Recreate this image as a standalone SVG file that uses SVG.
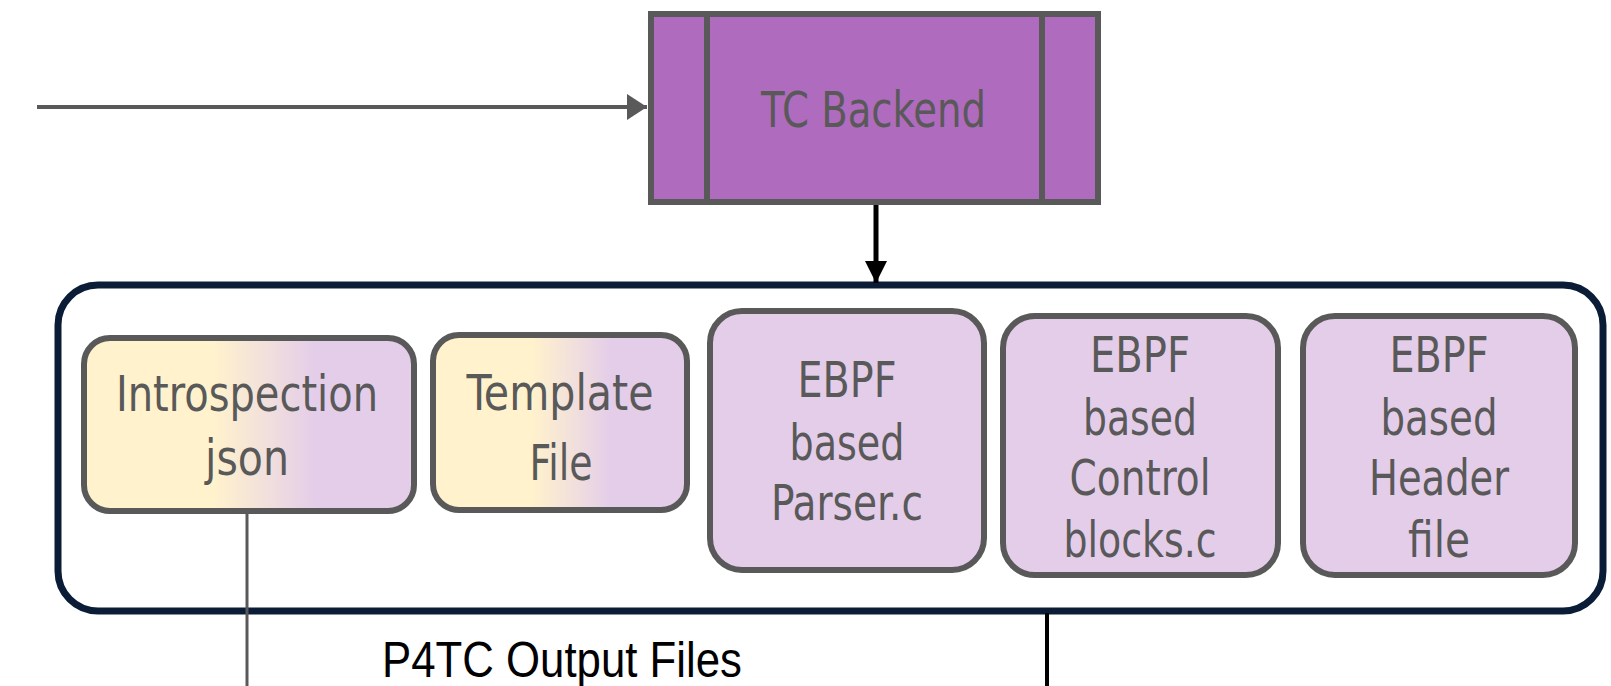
<svg xmlns="http://www.w3.org/2000/svg" width="1611" height="686" viewBox="0 0 1611 686">
  <style>
    .node { stroke: #595959; stroke-width: 6; }
    .file { fill: #E4CDE9; }
    .label { font-family: "DejaVu Sans Condensed", "DejaVu Sans", sans-serif; font-stretch: condensed; fill: #595959; text-anchor: middle; font-size: 50px; }
    .caption { font-family: "Liberation Sans Narrow", "Liberation Sans", Arial, sans-serif; fill: #000; font-size: 50px; }
  </style>
  <defs>
    <linearGradient id="mixFill" x1="0" y1="0" x2="1" y2="0">
      <stop offset="0" stop-color="#FFF2CC"/>
      <stop offset="0.39" stop-color="#FFF2CC"/>
      <stop offset="0.55" stop-color="#F2E0DC"/>
      <stop offset="0.70" stop-color="#E4CDE9"/>
      <stop offset="1" stop-color="#E4CDE9"/>
    </linearGradient>
    <marker id="headGray" markerUnits="userSpaceOnUse" markerWidth="20" markerHeight="26" refX="20" refY="13" orient="auto">
      <path d="M0,0 L20,13 L0,26 Z" fill="#595959"/>
    </marker>
    <marker id="headBlack" markerUnits="userSpaceOnUse" markerWidth="22" markerHeight="22" refX="22" refY="11" orient="auto">
      <path d="M0,0 L22,11 L0,22 Z" fill="#000"/>
    </marker>
  </defs>

  <rect width="1611" height="686" fill="#FFFFFF"/>

  <!-- output files container -->
  <g id="output-files">
    <rect x="58" y="285" width="1545" height="326" rx="40" ry="40" fill="#FFFFFF" stroke="#0B1D36" stroke-width="7"/>
    <text class="caption" x="382" y="677" textLength="360" lengthAdjust="spacingAndGlyphs">P4TC Output Files</text>
  </g>

  <!-- connectors -->
  <g id="connectors" fill="none">
    <line x1="37" y1="107" x2="647" y2="107" stroke="#595959" stroke-width="4" marker-end="url(#headGray)"/>
    <line x1="876" y1="205" x2="876" y2="283" stroke="#000" stroke-width="5" marker-end="url(#headBlack)"/>
    <line x1="247" y1="514" x2="247" y2="686" stroke="#595959" stroke-width="3"/>
    <line x1="1047" y1="613" x2="1047" y2="686" stroke="#000" stroke-width="4"/>
  </g>

  <!-- TC Backend process -->
  <g id="tc-backend">
    <rect class="node" x="651" y="14" width="447" height="188" fill="#AF6BBD"/>
    <line class="node" x1="707" y1="14" x2="707" y2="202"/>
    <line class="node" x1="1042" y1="14" x2="1042" y2="202"/>
    <text class="label" x="873.5" y="127" font-size="53" textLength="225" lengthAdjust="spacingAndGlyphs">TC Backend</text>
  </g>

  <g id="introspection-json">
    <rect class="node" x="84" y="338" width="330" height="173" rx="26" ry="26" fill="url(#mixFill)"/>
    <text class="label" x="247" y="411" textLength="262" lengthAdjust="spacingAndGlyphs">Introspection</text>
    <text class="label" x="247" y="475" textLength="84" lengthAdjust="spacingAndGlyphs">json</text>
  </g>

  <g id="template-file">
    <rect class="node" x="433" y="335" width="254" height="175" rx="26" ry="26" fill="url(#mixFill)"/>
    <text class="label" x="560" y="410" textLength="187" lengthAdjust="spacingAndGlyphs">Template</text>
    <text class="label" x="561" y="480" textLength="63" lengthAdjust="spacingAndGlyphs">File</text>
  </g>

  <g id="ebpf-parser">
    <rect class="node file" x="710" y="311" width="274" height="259" rx="32" ry="32"/>
    <text class="label" x="847" y="397" textLength="99" lengthAdjust="spacingAndGlyphs">EBPF</text>
    <text class="label" x="847" y="460" textLength="115" lengthAdjust="spacingAndGlyphs">based</text>
    <text class="label" x="847" y="520" textLength="152" lengthAdjust="spacingAndGlyphs">Parser.c</text>
  </g>

  <g id="ebpf-control">
    <rect class="node file" x="1003" y="316" width="275" height="259" rx="32" ry="32"/>
    <text class="label" x="1140" y="372" textLength="100" lengthAdjust="spacingAndGlyphs">EBPF</text>
    <text class="label" x="1140" y="435" textLength="114" lengthAdjust="spacingAndGlyphs">based</text>
    <text class="label" x="1140" y="495" textLength="141" lengthAdjust="spacingAndGlyphs">Control</text>
    <text class="label" x="1140" y="557" textLength="153" lengthAdjust="spacingAndGlyphs">blocks.c</text>
  </g>

  <g id="ebpf-header">
    <rect class="node file" x="1303" y="316" width="272" height="259" rx="32" ry="32"/>
    <text class="label" x="1439" y="372" textLength="99" lengthAdjust="spacingAndGlyphs">EBPF</text>
    <text class="label" x="1439" y="435" textLength="117" lengthAdjust="spacingAndGlyphs">based</text>
    <text class="label" x="1439" y="495" textLength="140" lengthAdjust="spacingAndGlyphs">Header</text>
    <text class="label" x="1439" y="557" textLength="62" lengthAdjust="spacingAndGlyphs">file</text>
  </g>
</svg>
